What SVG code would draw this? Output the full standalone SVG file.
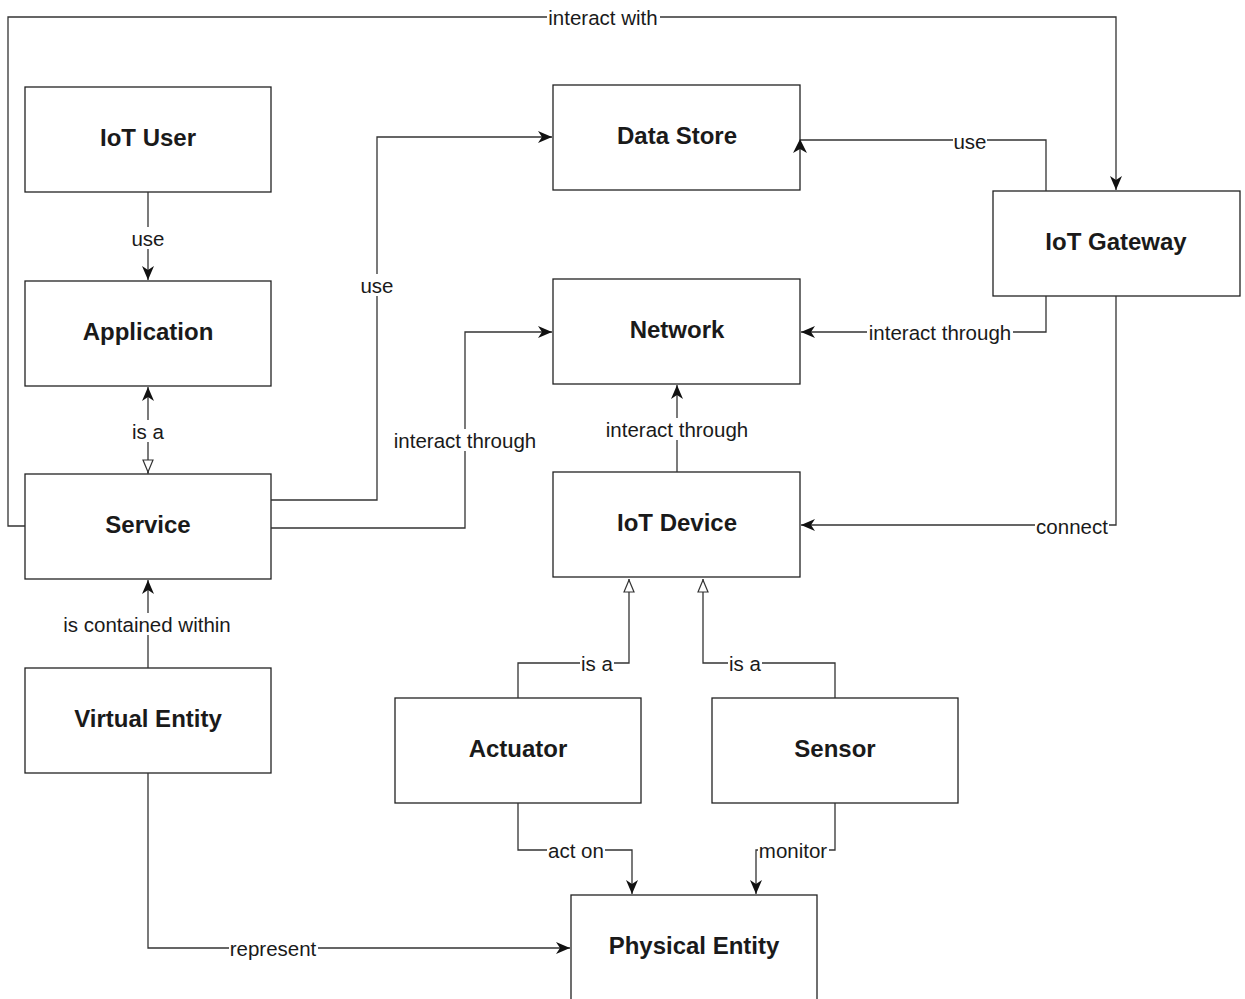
<svg xmlns="http://www.w3.org/2000/svg" width="1245" height="999" viewBox="0 0 1245 999">
<style>
.n{fill:#fff;stroke:#222;stroke-width:1.3}
.t{font-family:"Liberation Sans",Arial,sans-serif;font-weight:bold;font-size:24px;fill:#1a1a1a;text-anchor:middle;dominant-baseline:central}
.c{fill:none;stroke:#333;stroke-width:1.3}
.l{font-family:"Liberation Sans",Arial,sans-serif;font-size:20.5px;fill:#1a1a1a;text-anchor:middle;dominant-baseline:central}
.lb{fill:#fff}
</style>
<defs>
<marker id="a2" viewBox="0 0 14 14" refX="14" refY="7" markerWidth="14" markerHeight="14" markerUnits="userSpaceOnUse" orient="auto"><path d="M0,1 L14,7 L0,13 L4,7 Z" fill="#111"/></marker>
<marker id="h" viewBox="0 0 14 12" refX="14" refY="6" markerWidth="14" markerHeight="12" markerUnits="userSpaceOnUse" orient="auto"><path d="M1,1 L13,6 L1,11 Z" fill="#fff" stroke="#333" stroke-width="1.2"/></marker>
</defs>
<rect width="1245" height="999" fill="#fff"/>
<g id="iot-user"><rect class="n" x="25" y="87" width="246" height="105"/><text class="t" x="148" y="137">IoT User</text></g>
<g id="application"><rect class="n" x="25" y="281" width="246" height="105"/><text class="t" x="148" y="331">Application</text></g>
<g id="service"><rect class="n" x="25" y="474" width="246" height="105"/><text class="t" x="148" y="524">Service</text></g>
<g id="virtual-entity"><rect class="n" x="25" y="668" width="246" height="105"/><text class="t" x="148" y="718">Virtual Entity</text></g>
<g id="data-store"><rect class="n" x="553" y="85" width="247" height="105"/><text class="t" x="677" y="135">Data Store</text></g>
<g id="network"><rect class="n" x="553" y="279" width="247" height="105"/><text class="t" x="677" y="329">Network</text></g>
<g id="iot-device"><rect class="n" x="553" y="472" width="247" height="105"/><text class="t" x="677" y="522">IoT Device</text></g>
<g id="iot-gateway"><rect class="n" x="993" y="191" width="247" height="105"/><text class="t" x="1116" y="241">IoT Gateway</text></g>
<g id="actuator"><rect class="n" x="395" y="698" width="246" height="105"/><text class="t" x="518" y="748">Actuator</text></g>
<g id="sensor"><rect class="n" x="712" y="698" width="246" height="105"/><text class="t" x="835" y="748">Sensor</text></g>
<g id="physical-entity"><rect class="n" x="571" y="895" width="246" height="110"/><text class="t" x="694" y="945">Physical Entity</text></g>
<g id="connectors">
<path class="c" d="M148,192 V280" marker-end="url(#a2)"/>
<path class="c" d="M148,474 V387" marker-end="url(#a2)"/>
<path class="c" d="M148,470 V473" marker-end="url(#h)"/>
<path class="c" d="M148,668 V580" marker-end="url(#a2)"/>
<path class="c" d="M148,773 V948 H570" marker-end="url(#a2)"/>
<path class="c" d="M271,500 H377 V137 H552" marker-end="url(#a2)"/>
<path class="c" d="M271,528 H465 V332 H552" marker-end="url(#a2)"/>
<path class="c" d="M25,526 H8 V17 H1116 V190" marker-end="url(#a2)"/>
<path class="c" d="M1046,191 V140 H800"/>
<polygon points="800,139 807,153 800,149 793,153" fill="#111"/>
<path class="c" d="M1046,296 V332 H801" marker-end="url(#a2)"/>
<path class="c" d="M1116,296 V525 H801" marker-end="url(#a2)"/>
<path class="c" d="M677,472 V385" marker-end="url(#a2)"/>
<path class="c" d="M518,698 V663 H629 V579" marker-end="url(#h)"/>
<path class="c" d="M835,698 V663 H703 V579" marker-end="url(#h)"/>
<path class="c" d="M518,803 V850 H632 V894" marker-end="url(#a2)"/>
<path class="c" d="M835,803 V850 H756 V894" marker-end="url(#a2)"/>
<g id="labels">
<rect class="lb" x="131" y="227" width="34" height="22"/><text class="l" x="148" y="238">use</text>
<rect class="lb" x="131" y="420" width="34" height="22"/><text class="l" x="148" y="431">is a</text>
<rect class="lb" x="61" y="613" width="172" height="22"/><text class="l" x="147" y="624">is contained within</text>
<rect class="lb" x="229" y="937" width="89" height="22"/><text class="l" x="273" y="948">represent</text>
<rect class="lb" x="360" y="274" width="34" height="22"/><text class="l" x="377" y="285">use</text>
<rect class="lb" x="392" y="429" width="146" height="22"/><text class="l" x="465" y="440">interact through</text>
<rect class="lb" x="547" y="6" width="113" height="22"/><text class="l" x="603" y="17">interact with</text>
<rect class="lb" x="953" y="130" width="34" height="22"/><text class="l" x="970" y="141">use</text>
<rect class="lb" x="867" y="321" width="146" height="22"/><text class="l" x="940" y="332">interact through</text>
<rect class="lb" x="1035" y="515" width="74" height="22"/><text class="l" x="1072" y="526">connect</text>
<rect class="lb" x="604" y="418" width="146" height="22"/><text class="l" x="677" y="429">interact through</text>
<rect class="lb" x="580" y="652" width="34" height="22"/><text class="l" x="597" y="663">is a</text>
<rect class="lb" x="728" y="652" width="34" height="22"/><text class="l" x="745" y="663">is a</text>
<rect class="lb" x="547" y="839" width="58" height="22"/><text class="l" x="576" y="850">act on</text>
<rect class="lb" x="758" y="839" width="71" height="22"/><text class="l" x="793" y="850">monitor</text>
</g>
</g>
</svg>
